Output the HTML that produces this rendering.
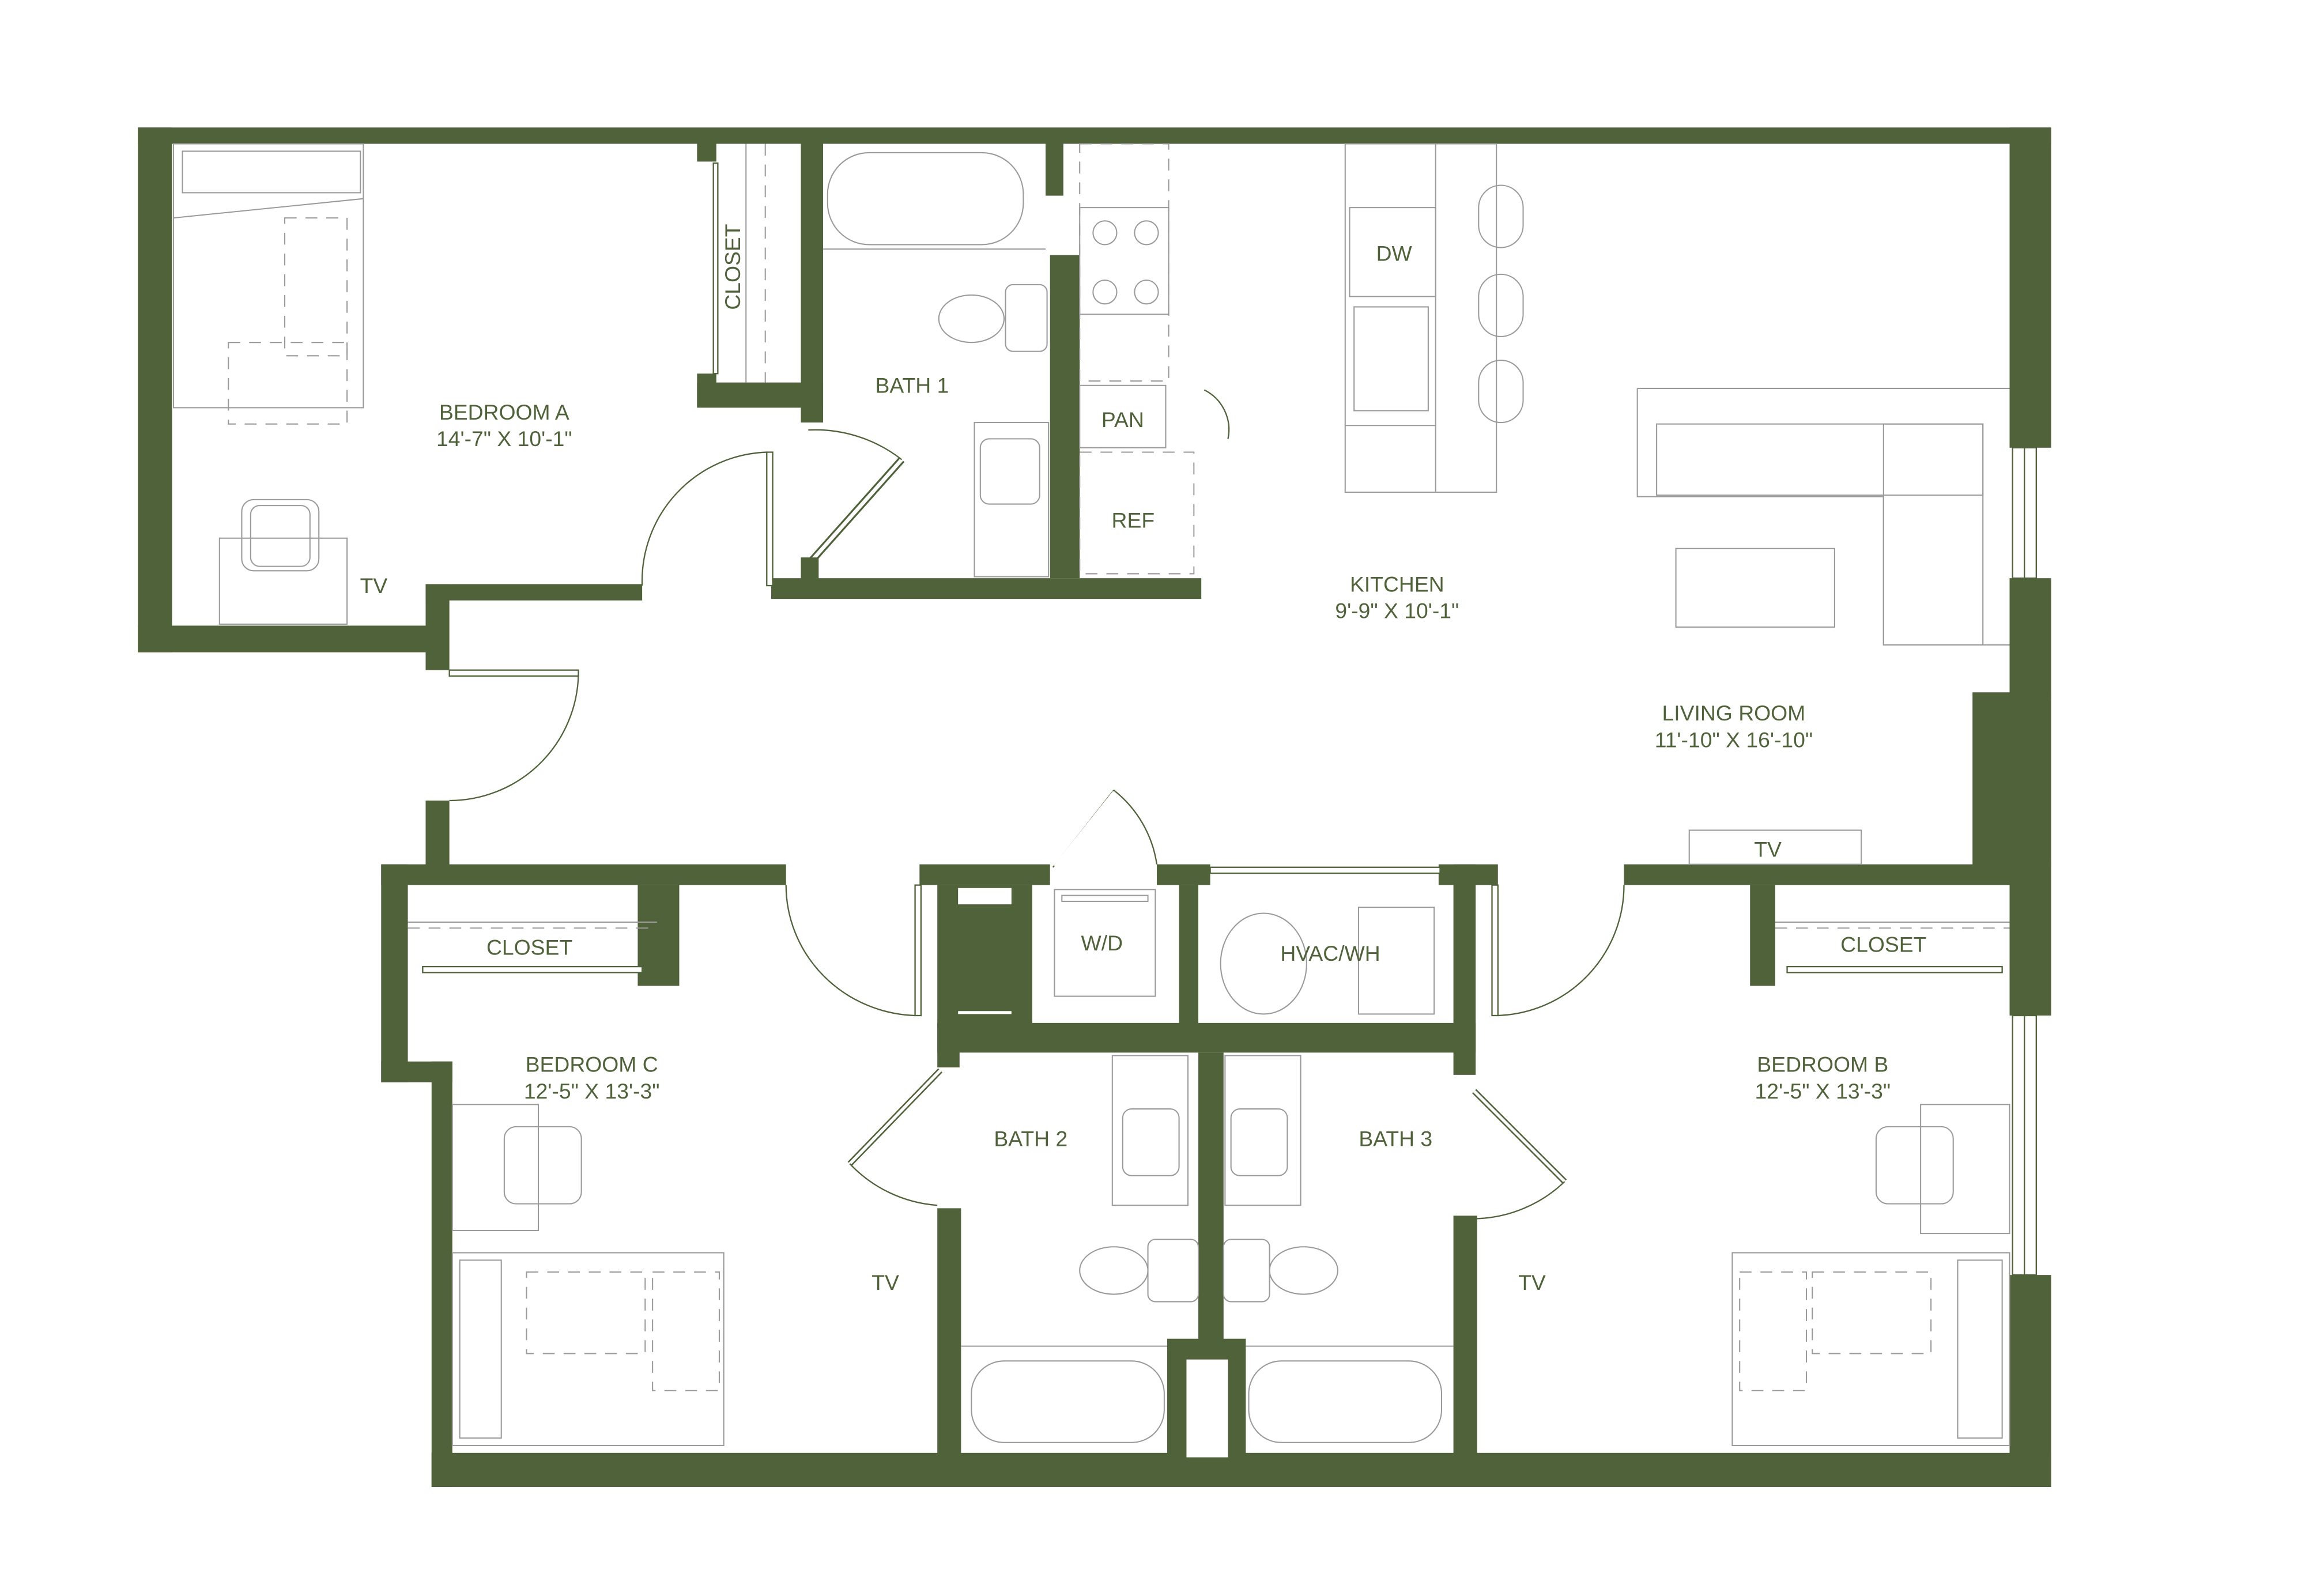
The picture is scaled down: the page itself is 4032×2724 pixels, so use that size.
<!DOCTYPE html>
<html><head><meta charset="utf-8"><style>
html,body{margin:0;padding:0;background:#fff}
svg{display:block}
text{font-family:"Liberation Sans",sans-serif;fill:#50623a}
.w{fill:#50623a}
.f{fill:none;stroke:#9a9a9a;stroke-width:0.8}
.d{fill:none;stroke:#9a9a9a;stroke-width:0.8;stroke-dasharray:8 6}
.dr{fill:#fff;stroke:#50623a;stroke-width:0.9}
.arc{fill:none;stroke:#50623a;stroke-width:0.9}
</style></head><body>
<svg width="4032" height="2724" viewBox="0 0 1567 1059" preserveAspectRatio="none" xmlns="http://www.w3.org/2000/svg">
<rect width="1567" height="1059" fill="#fff"/>
<rect class="w" x="93" y="86" width="1290" height="11"/>
<rect class="w" x="93" y="86" width="23" height="354"/>
<rect class="w" x="93" y="422" width="209" height="18"/>
<rect class="w" x="287" y="394" width="16" height="58"/>
<rect class="w" x="287" y="394" width="146" height="11"/>
<rect class="w" x="520" y="390" width="290" height="14"/>
<rect class="w" x="287" y="540" width="16" height="45"/>
<rect class="w" x="1355" y="86" width="28" height="216"/>
<rect class="w" x="1355" y="390" width="28" height="82"/>
<rect class="w" x="1330" y="467" width="53" height="118"/>
<rect class="w" x="1355" y="580" width="28" height="105"/>
<rect class="w" x="1355" y="860" width="28" height="143"/>
<rect class="w" x="291" y="980" width="1092" height="23"/>
<rect class="dr" x="1357" y="302" width="16" height="88"/>
<rect class="dr" x="1357" y="685" width="16" height="175"/>
<line class="arc" x1="1365" y1="302" x2="1365" y2="390"/>
<line class="arc" x1="1365" y1="685" x2="1365" y2="860"/>
<rect class="w" x="257" y="583" width="273" height="14"/>
<rect class="w" x="257" y="583" width="18" height="147"/>
<rect class="w" x="257" y="716" width="48" height="14"/>
<rect class="w" x="291" y="716" width="14" height="287"/>
<rect class="w" x="430" y="597" width="28" height="68"/>
<line class="f" x1="275" y1="622" x2="443" y2="622"/>
<line class="d" x1="275" y1="626" x2="443" y2="626"/>
<rect class="dr" x="285" y="652" width="148" height="4"/>
<text x="357" y="644" font-size="14.5" text-anchor="middle">CLOSET</text>
<rect class="w" x="620" y="583" width="88" height="14"/>
<rect class="w" x="780" y="583" width="36" height="14"/>
<rect class="w" x="970" y="583" width="40" height="14"/>
<rect class="w" x="632" y="597" width="64" height="95"/>
<rect x="646" y="599" width="36" height="11" fill="#fff"/>
<rect x="646" y="682" width="36" height="2" fill="#fff"/>
<rect class="w" x="795" y="597" width="13" height="95"/>
<rect class="w" x="980" y="583" width="15" height="142"/>
<rect class="w" x="632" y="690" width="363" height="20"/>
<rect class="w" x="632" y="690" width="15" height="30"/>
<rect class="w" x="632" y="815" width="16" height="168"/>
<rect class="w" x="980" y="820" width="16" height="163"/>
<rect class="w" x="808" y="710" width="17" height="200"/>
<rect class="w" x="787" y="903" width="53" height="80"/>
<rect x="800" y="917" width="28" height="66" fill="#fff"/>
<rect class="dr" x="816" y="585" width="155" height="4"/>
<path class="arc" d="M751,533 A 78 78 0 0 1 780 583"/>
<line class="dr" x1="710" y1="585" x2="751" y2="533" stroke-width="3"/>
<line x1="711" y1="584" x2="751" y2="534" stroke="#fff" stroke-width="1.5"/>
<rect class="f" x="711" y="600" width="68" height="72"/>
<rect class="f" x="716" y="604" width="58" height="4"/>
<text x="743" y="641" font-size="14.5" text-anchor="middle">W/D</text>
<ellipse class="f" cx="852" cy="650" rx="29" ry="34"/>
<rect class="f" x="916" y="612" width="51" height="72"/>
<text x="897" y="648" font-size="14.5" text-anchor="middle">HVAC/WH</text>
<rect class="dr" x="617" y="597" width="4" height="88"/>
<path class="arc" d="M530,597 A 90 88 0 0 0 617 685"/>
<rect class="w" x="1095" y="583" width="260" height="14"/>
<rect class="w" x="1180" y="597" width="17" height="68"/>
<rect class="dr" x="1006" y="597" width="4" height="88"/>
<path class="arc" d="M1095,597 A 88 88 0 0 1 1010 685"/>
<line class="f" x1="1197" y1="622" x2="1355" y2="622"/>
<line class="d" x1="1197" y1="626" x2="1355" y2="626"/>
<rect class="dr" x="1205" y="652" width="145" height="4"/>
<text x="1270" y="642" font-size="14.5" text-anchor="middle">CLOSET</text>
<line x1="634" y1="722" x2="573" y2="785" stroke="#50623a" stroke-width="4"/>
<line x1="634" y1="722" x2="573" y2="785" stroke="#fff" stroke-width="2"/>
<path class="arc" d="M573,785 A 90 90 0 0 0 632 813"/>
<line x1="994" y1="736" x2="1055" y2="797" stroke="#50623a" stroke-width="4"/>
<line x1="994" y1="736" x2="1055" y2="797" stroke="#fff" stroke-width="2"/>
<path class="arc" d="M1055,797 A 90 90 0 0 1 996 822"/>
<rect class="f" x="750" y="712" width="51" height="101"/>
<rect class="f" x="757" y="748" width="38" height="45" rx="6"/>
<rect class="f" x="826" y="712" width="51" height="101"/>
<rect class="f" x="830" y="748" width="38" height="45" rx="6"/>
<ellipse class="f" cx="751" cy="857" rx="23" ry="16"/>
<rect class="f" x="774" y="836" width="34" height="42" rx="5"/>
<ellipse class="f" cx="879" cy="857" rx="23" ry="16"/>
<rect class="f" x="825" y="836" width="31" height="42" rx="5"/>
<rect class="f" x="655" y="918" width="130" height="55" rx="22"/>
<rect class="f" x="842" y="918" width="130" height="55" rx="22"/>
<line class="f" x1="648" y1="908" x2="787" y2="908"/>
<line class="f" x1="840" y1="908" x2="980" y2="908"/>
<text x="695" y="773" font-size="14.5" text-anchor="middle">BATH 2</text>
<text x="941" y="773" font-size="14.5" text-anchor="middle">BATH 3</text>
<rect class="w" x="470" y="97" width="13" height="12"/>
<rect class="w" x="470" y="252" width="13" height="22"/>
<rect class="w" x="470" y="258" width="85" height="17"/>
<rect class="w" x="540" y="97" width="15" height="188"/>
<rect class="w" x="705" y="97" width="12" height="35"/>
<rect class="w" x="708" y="172" width="20" height="218"/>
<rect class="dr" x="481" y="110" width="3" height="142"/>
<line class="f" x1="503" y1="97" x2="503" y2="258"/>
<line class="d" x1="516" y1="97" x2="516" y2="258"/>
<text x="499" y="180" font-size="14.5" text-anchor="middle" transform="rotate(-90 499 180)">CLOSET</text>
<rect class="f" x="558" y="103" width="132" height="62" rx="28"/>
<line class="f" x1="555" y1="168" x2="705" y2="168"/>
<ellipse class="f" cx="655" cy="215" rx="22" ry="16"/>
<rect class="f" x="678" y="192" width="28" height="45" rx="5"/>
<rect class="f" x="657" y="285" width="50" height="104"/>
<rect class="f" x="661" y="296" width="40" height="44" rx="6"/>
<text x="615" y="265" font-size="14.5" text-anchor="middle">BATH 1</text>
<rect class="dr" x="517" y="305" width="4" height="90"/>
<path class="arc" d="M433,395 A 87 87 0 0 1 517 305"/>
<line x1="543" y1="383" x2="608" y2="310" stroke="#50623a" stroke-width="5"/>
<line x1="543" y1="383" x2="608" y2="310" stroke="#fff" stroke-width="2.5"/>
<path class="arc" d="M545,290 A 95 95 0 0 1 608 310"/>
<rect class="w" x="540" y="376" width="12" height="15"/>
<rect class="f" x="117" y="97" width="128" height="178"/>
<rect class="f" x="123" y="102" width="120" height="28"/>
<line class="f" x1="117" y1="147" x2="245" y2="134"/>
<rect class="d" x="192" y="147" width="42" height="93"/>
<rect class="d" x="154" y="231" width="80" height="55"/>
<rect class="f" x="148" y="363" width="86" height="58"/>
<rect class="f" x="163" y="337" width="52" height="48" rx="8"/>
<rect class="f" x="169" y="341" width="40" height="41" rx="6"/>
<text x="340" y="283" font-size="14.5" text-anchor="middle">BEDROOM A</text>
<text x="340" y="301" font-size="14.5" text-anchor="middle">14'-7" X 10'-1"</text>
<text x="252" y="400" font-size="14.5" text-anchor="middle">TV</text>
<rect class="dr" x="303" y="452" width="87" height="4"/>
<path class="arc" d="M390,455 A 87 87 0 0 1 303 540"/>
<rect class="d" x="728" y="97" width="60" height="160"/>
<rect class="f" x="728" y="140" width="60" height="72"/>
<circle class="f" cx="745" cy="157" r="8"/><circle class="f" cx="773" cy="157" r="8"/>
<circle class="f" cx="745" cy="197" r="8"/><circle class="f" cx="773" cy="197" r="8"/>
<rect class="f" x="728" y="260" width="58" height="42"/>
<rect class="d" x="728" y="305" width="77" height="82"/>
<text x="757" y="288" font-size="14.5" text-anchor="middle">PAN</text>
<text x="764" y="356" font-size="14.5" text-anchor="middle">REF</text>
<path class="arc" d="M812,263 A 30 30 0 0 1 828 296"/>
<rect class="f" x="907" y="97" width="102" height="235"/>
<line class="f" x1="968" y1="97" x2="968" y2="332"/>
<rect class="f" x="910" y="140" width="58" height="60"/>
<rect class="f" x="913" y="207" width="50" height="70"/>
<line class="f" x1="907" y1="287" x2="968" y2="287"/>
<text x="940" y="176" font-size="14.5" text-anchor="middle">DW</text>
<rect class="f" x="997" y="125" width="30" height="42" rx="15"/>
<rect class="f" x="997" y="185" width="30" height="42" rx="15"/>
<rect class="f" x="997" y="243" width="30" height="42" rx="15"/>
<text x="942" y="399" font-size="14.5" text-anchor="middle">KITCHEN</text>
<text x="942" y="417" font-size="14.5" text-anchor="middle">9'-9" X 10'-1"</text>
<path class="f" d="M1104,262 H1355 M1104,262 V335 H1270 V435 H1355"/>
<rect class="f" x="1117" y="286" width="220" height="48"/>
<rect class="f" x="1270" y="286" width="67" height="149"/>
<rect class="f" x="1130" y="370" width="107" height="53"/>
<text x="1169" y="486" font-size="14.5" text-anchor="middle">LIVING ROOM</text>
<text x="1169" y="504" font-size="14.5" text-anchor="middle">11'-10" X 16'-10"</text>
<rect class="f" x="1139" y="560" width="116" height="23"/>
<text x="1192" y="578" font-size="14.5" text-anchor="middle">TV</text>
<text x="399" y="723" font-size="14.5" text-anchor="middle">BEDROOM C</text>
<text x="399" y="741" font-size="14.5" text-anchor="middle">12'-5" X 13'-3"</text>
<rect class="f" x="305" y="745" width="58" height="85"/>
<rect class="f" x="340" y="760" width="52" height="52" rx="8"/>
<rect class="f" x="305" y="845" width="183" height="130"/>
<rect class="f" x="310" y="850" width="28" height="120"/>
<rect class="d" x="355" y="858" width="80" height="55"/>
<rect class="d" x="440" y="858" width="45" height="80"/>
<text x="597" y="870" font-size="14.5" text-anchor="middle">TV</text>
<text x="1229" y="723" font-size="14.5" text-anchor="middle">BEDROOM B</text>
<text x="1229" y="741" font-size="14.5" text-anchor="middle">12'-5" X 13'-3"</text>
<rect class="f" x="1295" y="745" width="60" height="87"/>
<rect class="f" x="1265" y="760" width="52" height="52" rx="8"/>
<rect class="f" x="1168" y="845" width="187" height="130"/>
<rect class="f" x="1320" y="850" width="30" height="120"/>
<rect class="d" x="1173" y="858" width="45" height="80"/>
<rect class="d" x="1222" y="858" width="80" height="55"/>
<text x="1033" y="870" font-size="14.5" text-anchor="middle">TV</text>
</svg>
</body></html>
